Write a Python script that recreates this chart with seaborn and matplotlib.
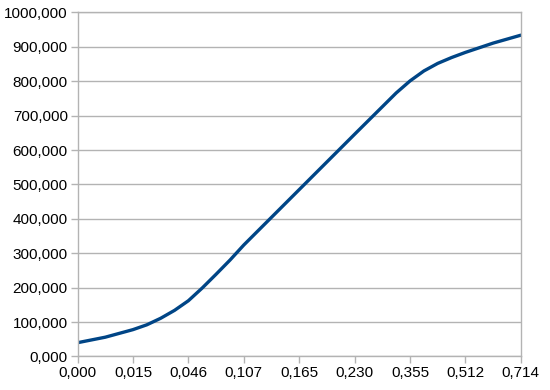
import matplotlib
matplotlib.use("Agg")
import matplotlib.pyplot as plt
import seaborn as sns
import pandas as pd

# x category labels (shown on axis)
x_labels = ["0,000", "0,015", "0,046", "0,107", "0,165", "0,230", "0,355", "0,512", "0,714"]
# category positions of readings (labelled categories and points read between them)
positions = [0, 0.5, 1, 1.25, 1.5, 1.75, 2, 2.25, 2.5, 2.75, 3, 4, 5, 5.5, 5.75,
             6, 6.25, 6.5, 6.75, 7, 7.5, 8]
# values
values = [40, 56, 78, 92, 111, 134, 162, 199, 239, 280, 324, 485, 646, 726, 766,
          801, 830, 852, 869, 884, 911, 934]
y_ticks = [0, 100, 200, 300, 400, 500, 600, 700, 800, 900, 1000]

sns.set_theme(style="white")
plt.rcParams["font.family"] = ["Liberation Sans", "DejaVu Sans"]

df = pd.DataFrame({"pos": positions, "val": values})

fig = plt.figure(figsize=(5.5, 3.9), dpi=100)
ax = fig.add_axes([0.141, 0.086, 0.806, 0.882])

grid_c = "#b3b3b3"
ax.set_axisbelow(True)
ax.yaxis.grid(True, color=grid_c, linewidth=1.0)
ax.xaxis.grid(False)

sns.lineplot(data=df, x="pos", y="val", ax=ax, color="#004586", linewidth=2.4,
             estimator=None, sort=True, solid_joinstyle="round", solid_capstyle="round")

ax.set_xlim(0, 8)
ax.set_ylim(0, 1000)
ax.set_xticks(range(len(x_labels)))
ax.set_xticklabels(x_labels)
ax.set_yticks(y_ticks)
ax.set_yticklabels([f"{v:.3f}".replace(".", ",") for v in y_ticks])
ax.set_xlabel("")
ax.set_ylabel("")

for s in ax.spines.values():
    s.set_color(grid_c)
    s.set_linewidth(1.0)

ax.tick_params(axis="both", which="major", direction="out", length=5, width=1,
               color=grid_c, labelsize=11, labelcolor="black", pad=2,
               bottom=True, left=True)

fig.savefig("out.png", dpi=100)
